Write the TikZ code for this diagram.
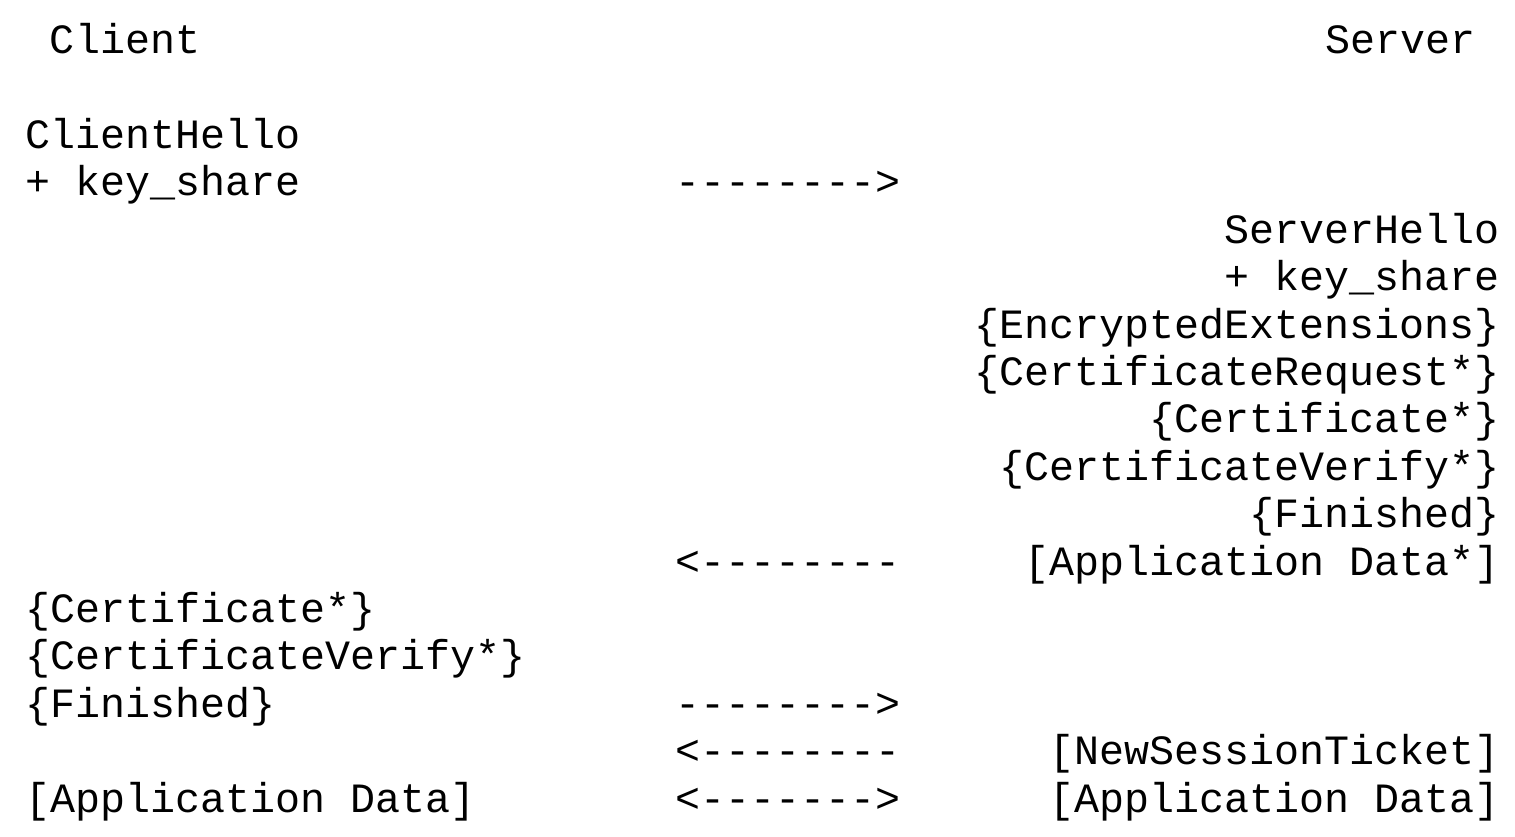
\documentclass[tikz,border=0pt]{standalone}
\usepackage{fontspec}
\setmonofont{Liberation Mono}
\newlength{\du}
\setlength{\du}{0.25pt}
\tikzset{msgtext/.style={inner sep=0pt,outer sep=0pt,font=\ttfamily\fontsize{10.42pt}{11.85pt}\selectfont}}
\begin{document}
\begin{tikzpicture}
\pgftransformxscale{1.000000}
\pgftransformyscale{-1.000000}
\definecolor{dialinecolor}{rgb}{1.000000, 1.000000, 1.000000}
\pgfsetfillcolor{dialinecolor}
\useasboundingbox (0.000000\du,0.000000\du) rectangle (1515.000000\du,836.000000\du);
\fill (0.000000\du,0.000000\du)--(0.000000\du,836.000000\du)--(1515.000000\du,836.000000\du)--(1515.000000\du,0.000000\du)--cycle;
% setfont left to latex
\definecolor{dialinecolor}{rgb}{0.000000, 0.000000, 0.000000}
\pgfsetstrokecolor{dialinecolor}
\node[msgtext,anchor=base west] (client) at (50.000000\du,53.600000\du){Client};
\node[msgtext,anchor=base west] (server) at (1325.000000\du,53.600000\du){Server};
% setfont left to latex
\node[msgtext,anchor=base west] (clienthello) at (25.000000\du,148.400000\du){ClientHello};
\node[msgtext,anchor=base west] (clientkeyshare) at (25.000000\du,195.800000\du){+ key\_share};
\node[msgtext,anchor=base west] (toserverA) at (675.000000\du,195.800000\du){-------->};
% setfont left to latex
\node[msgtext,anchor=base east] (serverhello) at (1500.000000\du,243.200000\du){ServerHello};
\node[msgtext,anchor=base east] (serverkeyshare) at (1500.000000\du,290.600000\du){+ key\_share};
\node[msgtext,anchor=base east] (encext) at (1500.000000\du,338.000000\du){\{EncryptedExtensions\}};
\node[msgtext,anchor=base east] (certreq) at (1500.000000\du,385.400000\du){\{CertificateRequest*\}};
\node[msgtext,anchor=base east] (servercert) at (1500.000000\du,432.800000\du){\{Certificate*\}};
\node[msgtext,anchor=base east] (servercertverify) at (1500.000000\du,480.200000\du){\{CertificateVerify*\}};
\node[msgtext,anchor=base east] (serverfinished) at (1500.000000\du,527.600000\du){\{Finished\}};
\node[msgtext,anchor=base west] (toclientA) at (675.000000\du,575.000000\du){<--------};
\node[msgtext,anchor=base east] (serverappdataA) at (1500.000000\du,575.000000\du){[Application Data*]};
% setfont left to latex
\node[msgtext,anchor=base west] (clientcert) at (25.000000\du,622.400000\du){\{Certificate*\}};
\node[msgtext,anchor=base west] (clientcertverify) at (25.000000\du,669.800000\du){\{CertificateVerify*\}};
\node[msgtext,anchor=base west] (clientfinished) at (25.000000\du,717.200000\du){\{Finished\}};
\node[msgtext,anchor=base west] (toserverB) at (675.000000\du,717.200000\du){-------->};
% setfont left to latex
\node[msgtext,anchor=base west] (toclientB) at (675.000000\du,764.600000\du){<--------};
\node[msgtext,anchor=base east] (ticket) at (1500.000000\du,764.600000\du){[NewSessionTicket]};
\node[msgtext,anchor=base west] (clientappdata) at (25.000000\du,812.000000\du){[Application Data]};
\node[msgtext,anchor=base west] (bothways) at (675.000000\du,812.000000\du){<------->};
\node[msgtext,anchor=base east] (serverappdataB) at (1500.000000\du,812.000000\du){[Application Data]};
\end{tikzpicture}
\end{document}
